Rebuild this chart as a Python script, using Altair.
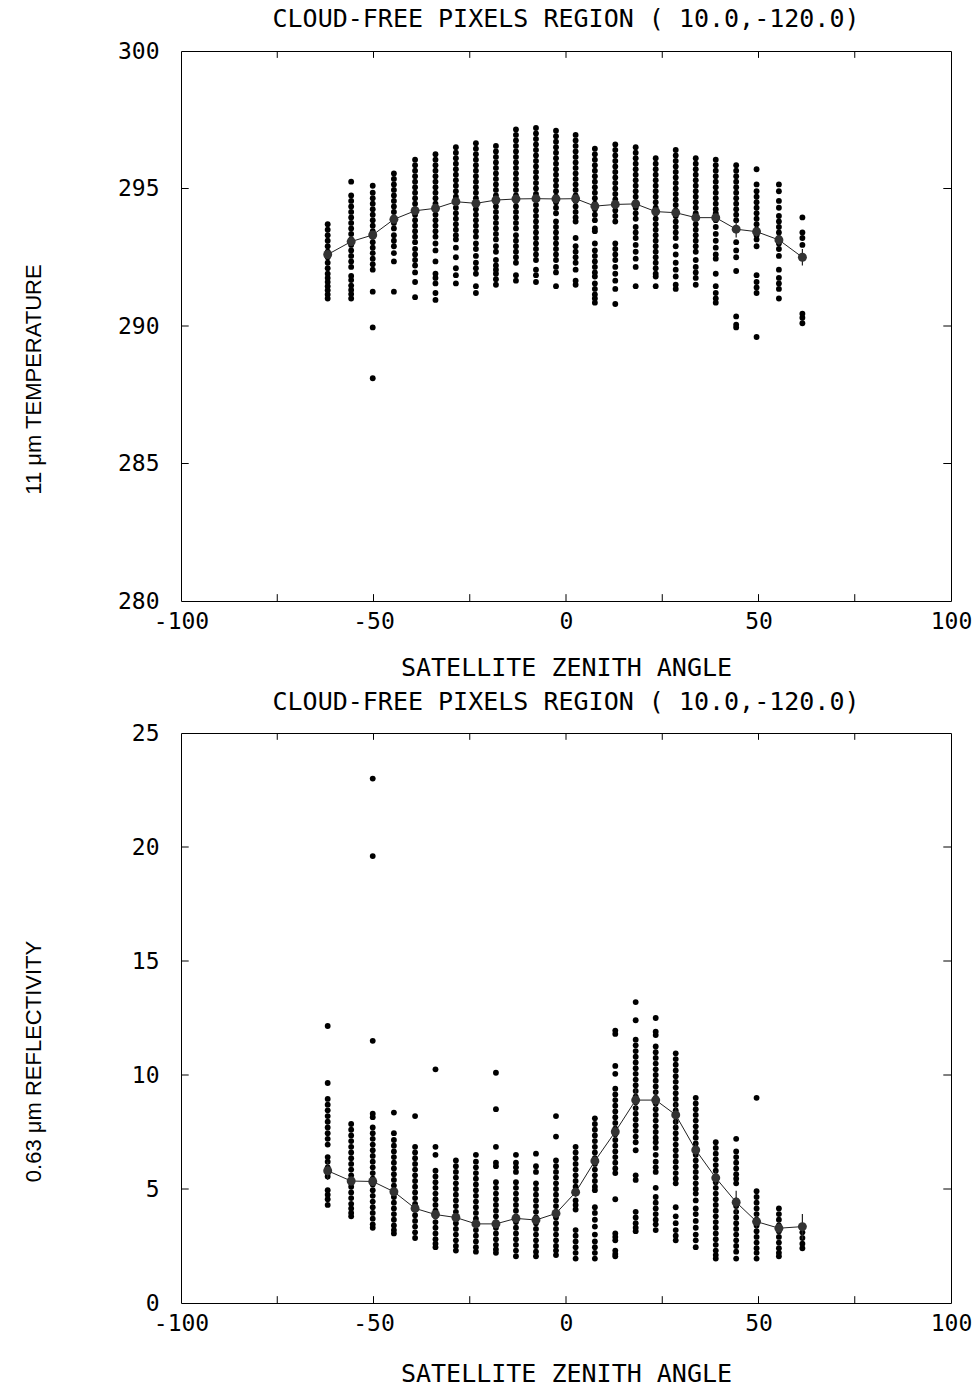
import altair as alt
import pandas as pd

# ---------------- data ----------------
ANGLES = [-61.9, -55.8, -50.2, -44.7, -39.2, -33.9, -28.6, -23.4, -18.2, -13.0, -7.8, -2.6,
          2.5, 7.5, 12.8, 18.1, 23.3, 28.5, 33.7, 38.9, 44.2, 49.5, 55.3, 61.4]

# 11 um temperature, one list per zenith-angle bin
T01 = [293.7, 293.5, 293.3, 293.1, 292.9, 292.7, 292.5, 292.3, 292.1, 291.9, 291.75, 291.6, 291.45, 291.3, 291.15, 291.0]
T02 = [295.25, 294.75, 294.55, 294.35, 294.15, 293.95, 293.75, 293.55, 293.35, 293.15, 292.95, 292.75, 292.55, 292.35, 292.15, 291.82, 291.67, 291.47, 291.31, 291.16, 291.0]
T03 = [295.1, 294.85, 294.65, 294.45, 294.25, 294.05, 293.85, 293.65, 293.45, 293.25, 293.05, 292.85, 292.65, 292.45, 292.25, 292.05, 291.25, 289.95, 288.1]
T04 = [295.55, 295.35, 295.15, 294.95, 294.75, 294.55, 294.35, 294.15, 293.95, 293.75, 293.55, 293.3, 293.1, 292.9, 292.65, 292.35, 291.25]
T05 = [296.05, 295.85, 295.65, 295.45, 295.25, 295.05, 294.85, 294.65, 294.45, 294.25, 294.05, 293.85, 293.65, 293.45, 293.25, 293.05, 292.8, 292.6, 292.4, 292.2, 291.95, 291.6, 291.05]
T06 = [296.25, 296.05, 295.85, 295.65, 295.45, 295.25, 295.05, 294.85, 294.65, 294.45, 294.25, 294.05, 293.85, 293.65, 293.45, 293.25, 293.0, 292.75, 292.35, 291.9, 291.75, 291.55, 291.2, 290.95]
T07 = [296.5, 296.3, 296.1, 295.9, 295.7, 295.5, 295.3, 295.1, 294.9, 294.7, 294.5, 294.3, 294.1, 293.9, 293.7, 293.5, 293.3, 293.15, 292.85, 292.5, 292.1, 291.85, 291.55]
T08 = [296.65, 296.45, 296.25, 296.05, 295.85, 295.65, 295.45, 295.25, 295.05, 294.85, 294.65, 294.45, 294.25, 294.05, 293.85, 293.65, 293.45, 293.25, 293.0, 292.8, 292.55, 292.3, 292.1, 291.9, 291.45, 291.2]
T09 = [296.55, 296.35, 296.15, 295.95, 295.75, 295.55, 295.35, 295.15, 294.95, 294.75, 294.55, 294.35, 294.15, 293.95, 293.75, 293.55, 293.35, 293.15, 292.9, 292.7, 292.4, 292.2, 292.05, 291.9, 291.7, 291.5]
T10 = [297.15, 296.95, 296.75, 296.55, 296.35, 296.15, 295.95, 295.75, 295.55, 295.35, 295.15, 294.95, 294.75, 294.55, 294.35, 294.15, 293.95, 293.75, 293.55, 293.3, 293.1, 292.9, 292.7, 292.5, 292.3, 291.85, 291.65]
T11 = [297.2, 297.0, 296.8, 296.6, 296.4, 296.2, 296.0, 295.8, 295.6, 295.4, 295.2, 295.0, 294.8, 294.6, 294.4, 294.2, 294.0, 293.8, 293.6, 293.4, 293.2, 293.0, 292.8, 292.6, 292.4, 292.05, 291.85, 291.6]
T12 = [297.1, 296.9, 296.7, 296.5, 296.3, 296.1, 295.9, 295.7, 295.5, 295.3, 295.1, 294.9, 294.7, 294.5, 294.3, 294.1, 293.8, 293.6, 293.4, 293.2, 293.0, 292.8, 292.6, 292.4, 292.15, 291.95, 291.45]
T13 = [296.95, 296.75, 296.55, 296.35, 296.15, 295.95, 295.75, 295.55, 295.35, 295.15, 294.95, 294.75, 294.55, 294.35, 294.15, 293.95, 293.8, 293.2, 292.9, 292.7, 292.5, 292.3, 292.05, 291.65, 291.5]
T14 = [296.45, 296.25, 296.05, 295.85, 295.65, 295.45, 295.25, 295.05, 294.85, 294.65, 294.45, 294.25, 294.05, 293.85, 293.55, 293.45, 293.0, 292.75, 292.55, 292.35, 292.15, 291.95, 291.8, 291.55, 291.35, 291.15, 291.0, 290.85]
T15 = [296.6, 296.4, 296.2, 296.0, 295.8, 295.6, 295.4, 295.2, 295.0, 294.8, 294.6, 294.4, 294.2, 294.0, 293.8, 293.0, 292.8, 292.6, 292.4, 292.15, 291.9, 291.65, 291.35, 290.8]
T16 = [296.5, 296.3, 296.1, 295.9, 295.7, 295.5, 295.3, 295.1, 294.9, 294.7, 294.5, 294.3, 294.1, 293.9, 293.6, 293.4, 293.2, 292.95, 292.7, 292.45, 292.15, 291.45]
T17 = [296.1, 295.9, 295.7, 295.5, 295.3, 295.1, 294.9, 294.7, 294.5, 294.3, 294.1, 293.9, 293.7, 293.5, 293.3, 293.1, 292.9, 292.7, 292.5, 292.3, 292.1, 291.9, 291.8, 291.45]
T18 = [296.4, 296.2, 296.0, 295.8, 295.6, 295.4, 295.2, 295.0, 294.8, 294.6, 294.4, 294.2, 294.0, 293.8, 293.6, 293.4, 293.2, 292.9, 292.6, 292.3, 292.05, 291.8, 291.5, 291.35]
T19 = [296.1, 295.9, 295.7, 295.5, 295.3, 295.1, 294.9, 294.7, 294.5, 294.3, 294.1, 293.9, 293.7, 293.5, 293.3, 293.1, 292.9, 292.7, 292.4, 292.15, 291.95, 291.75, 291.5]
T20 = [296.05, 295.85, 295.65, 295.45, 295.25, 295.05, 294.85, 294.65, 294.45, 294.25, 294.1, 293.85, 293.6, 293.35, 293.1, 292.85, 292.6, 292.45, 291.9, 291.45, 291.2, 291.0, 290.85]
T21 = [295.85, 295.65, 295.45, 295.25, 295.05, 294.85, 294.65, 294.45, 294.25, 294.05, 293.85, 293.05, 292.75, 292.5, 292.0, 290.35, 290.05, 289.95]
T22 = [295.7, 295.15, 294.9, 294.7, 294.5, 294.3, 294.1, 293.9, 293.7, 293.5, 293.3, 293.15, 292.9, 291.85, 291.6, 291.4, 291.2, 289.6]
T23 = [295.15, 294.9, 294.55, 294.3, 294.0, 293.8, 293.6, 293.4, 293.2, 293.0, 292.8, 292.55, 292.05, 291.75, 291.55, 291.35, 291.0]
T24 = [293.95, 293.4, 293.2, 292.95, 292.5, 290.45, 290.3, 290.1]

TOP_MEANS = [292.6, 293.07, 293.31, 293.88, 294.19, 294.28, 294.52, 294.46, 294.58, 294.62, 294.63, 294.62,
             294.63, 294.36, 294.42, 294.44, 294.16, 294.12, 293.94, 293.94, 293.52, 293.43, 293.13, 292.5]
TOP_ERR = [0.15, 0.1, 0.1, 0.1, 0.1, 0.1, 0.1, 0.1, 0.1, 0.1, 0.1, 0.1,
           0.1, 0.1, 0.1, 0.1, 0.1, 0.1, 0.1, 0.1, 0.3, 0.2, 0.2, 0.3]

# 0.63 um reflectivity, one list per zenith-angle bin
B01 = [12.15, 9.65, 8.95, 8.7, 8.45, 8.2, 7.95, 7.7, 7.45, 7.2, 6.95, 6.4, 6.2, 5.95, 5.7, 5.55, 4.95, 4.75, 4.55, 4.3]
B02 = [7.85, 7.6, 7.35, 7.1, 6.85, 6.6, 6.35, 6.1, 5.85, 5.6, 5.35, 5.1, 4.85, 4.6, 4.35, 4.15, 3.95, 3.8]
B03 = [23.0, 19.6, 11.5, 8.3, 8.15, 7.7, 7.45, 7.2, 6.95, 6.7, 6.45, 6.2, 5.95, 5.7, 5.45, 5.2, 4.95, 4.7, 4.45, 4.2, 3.95, 3.7, 3.45, 3.3]
B04 = [8.35, 7.45, 7.15, 6.9, 6.65, 6.4, 6.15, 5.9, 5.65, 5.4, 5.15, 4.9, 4.65, 4.4, 4.15, 3.9, 3.65, 3.4, 3.2, 3.05]
B05 = [8.2, 6.85, 6.6, 6.35, 6.1, 5.85, 5.6, 5.35, 5.1, 4.85, 4.6, 4.35, 4.1, 3.85, 3.6, 3.35, 3.1, 2.85]
B06 = [10.25, 6.85, 6.5, 5.8, 5.55, 5.3, 5.05, 4.8, 4.55, 4.3, 4.05, 3.8, 3.55, 3.3, 3.05, 2.8, 2.6, 2.45]
B07 = [6.25, 6.0, 5.75, 5.5, 5.25, 5.0, 4.75, 4.5, 4.25, 4.0, 3.75, 3.5, 3.25, 3.0, 2.75, 2.5, 2.3]
B08 = [6.5, 6.2, 5.95, 5.7, 5.45, 5.2, 4.95, 4.7, 4.45, 4.2, 3.95, 3.7, 3.45, 3.2, 2.95, 2.7, 2.45, 2.25]
B09 = [10.1, 8.5, 6.85, 6.15, 6.0, 5.3, 5.05, 4.8, 4.55, 4.3, 4.05, 3.8, 3.55, 3.3, 3.05, 2.8, 2.55, 2.35, 2.2]
B10 = [6.5, 6.15, 5.95, 5.75, 5.3, 5.05, 4.8, 4.55, 4.3, 4.05, 3.8, 3.55, 3.3, 3.05, 2.8, 2.55, 2.3, 2.05]
B11 = [6.55, 6.0, 5.75, 5.25, 5.0, 4.75, 4.5, 4.25, 4.0, 3.75, 3.5, 3.25, 3.0, 2.75, 2.5, 2.25, 2.05]
B12 = [8.2, 7.3, 6.25, 6.0, 5.75, 5.5, 5.25, 5.0, 4.75, 4.5, 4.25, 4.0, 3.75, 3.5, 3.25, 3.0, 2.75, 2.5, 2.3, 2.1]
B13 = [6.85, 6.6, 6.35, 6.1, 5.85, 5.6, 5.35, 5.1, 4.85, 4.5, 4.3, 4.1, 3.2, 2.95, 2.7, 2.45, 2.2, 1.95]
B14 = [8.1, 7.85, 7.6, 7.35, 7.1, 6.85, 6.6, 6.35, 6.1, 5.85, 5.6, 5.35, 5.1, 4.95, 4.2, 3.95, 3.65, 3.35, 3.0, 2.7, 2.45, 2.2, 1.95]
B15 = [11.95, 11.8, 10.4, 10.05, 9.4, 9.15, 8.9, 8.65, 8.4, 8.15, 7.9, 7.65, 7.4, 7.15, 6.9, 6.65, 6.4, 6.15, 5.9, 5.7, 4.55, 3.05, 2.9, 2.75, 2.3, 2.15, 2.05]
B16 = [13.2, 12.4, 11.55, 11.3, 11.05, 10.8, 10.55, 10.3, 10.05, 9.8, 9.55, 9.3, 9.05, 8.8, 8.55, 8.3, 8.05, 7.8, 7.55, 7.3, 7.05, 6.7, 5.6, 5.4, 4.0, 3.75, 3.5, 3.3, 3.15]
B17 = [12.5, 11.9, 11.75, 11.25, 11.0, 10.75, 10.5, 10.25, 10.0, 9.75, 9.5, 9.25, 9.0, 8.75, 8.5, 8.25, 8.0, 7.75, 7.5, 7.25, 7.05, 6.8, 6.5, 6.2, 5.95, 5.75, 5.05, 4.65, 4.4, 4.15, 3.9, 3.65, 3.45, 3.2]
B18 = [10.95, 10.7, 10.45, 10.2, 9.95, 9.7, 9.45, 9.2, 8.95, 8.7, 8.45, 8.2, 7.95, 7.7, 7.45, 7.2, 6.95, 6.7, 6.45, 6.2, 5.95, 5.7, 5.45, 5.25, 4.2, 3.8, 3.5, 3.2, 2.95, 2.75]
B19 = [9.0, 8.75, 8.5, 8.25, 8.0, 7.75, 7.5, 7.25, 7.0, 6.75, 6.5, 6.25, 6.0, 5.75, 5.5, 5.25, 5.0, 4.8, 4.5, 4.15, 3.9, 3.6, 3.3, 3.0, 2.75, 2.45]
B20 = [7.05, 6.8, 6.55, 6.3, 6.05, 5.8, 5.55, 5.3, 5.05, 4.8, 4.55, 4.3, 4.05, 3.8, 3.55, 3.3, 3.05, 2.8, 2.55, 2.3, 2.1, 1.95]
B21 = [7.2, 6.65, 6.4, 6.15, 5.9, 5.65, 5.45, 5.25, 4.5, 4.25, 4.0, 3.75, 3.5, 3.25, 3.0, 2.75, 2.5, 2.25, 1.95]
B22 = [9.0, 4.9, 4.65, 4.4, 4.15, 3.9, 3.65, 3.4, 3.15, 2.9, 2.65, 2.4, 2.2, 1.95]
B23 = [4.15, 3.9, 3.65, 3.4, 3.15, 2.9, 2.65, 2.4, 2.2, 2.05]
B24 = [3.35, 3.1, 2.85, 2.6, 2.4]

BOT_MEANS = [5.8, 5.35, 5.33, 4.88, 4.15, 3.88, 3.75, 3.47, 3.47, 3.71, 3.64, 3.93,
             4.86, 6.23, 7.51, 8.9, 8.9, 8.25, 6.71, 5.49, 4.42, 3.57, 3.28, 3.35]
BOT_ERR = [0.4, 0.2, 0.2, 0.2, 0.2, 0.2, 0.2, 0.2, 0.2, 0.2, 0.2, 0.2,
           0.2, 0.2, 0.3, 0.5, 0.4, 0.5, 0.3, 0.3, 0.5, 0.3, 0.3, 0.55]

TOP_COLUMNS = [T01, T02, T03, T04, T05, T06, T07, T08, T09, T10, T11, T12,
               T13, T14, T15, T16, T17, T18, T19, T20, T21, T22, T23, T24]
BOT_COLUMNS = [B01, B02, B03, B04, B05, B06, B07, B08, B09, B10, B11, B12,
               B13, B14, B15, B16, B17, B18, B19, B20, B21, B22, B23, B24]

X_TICKS = [-75, -50, -25, 0, 25, 50, 75]
X_LABELS = [-100, -50, 0, 50, 100]

TITLE = "CLOUD-FREE PIXELS  REGION ( 10.0,-120.0)"
XTITLE = "SATELLITE ZENITH ANGLE"

MONO = "DejaVu Sans Mono"
YTITLE_FONT = "Liberation Sans"


def points_frame(columns):
    rows = []
    for a, col in zip(ANGLES, columns):
        for v in col:
            rows.append({"angle": a, "value": v})
    return pd.DataFrame(rows)


def means_frame(means, errs):
    return pd.DataFrame({"angle": ANGLES, "mean": means,
                         "lo": [m - e for m, e in zip(means, errs)],
                         "hi": [m + e for m, e in zip(means, errs)]})


def panel(columns, means, errs, ymin, ymax, ystep_values, ytitle, height, vtick,
          xtitle_pad, dot_size, title_offset):
    xs = alt.Scale(domain=[-100, 100], nice=False, zero=False)
    ys = alt.Scale(domain=[ymin, ymax], nice=False, zero=False)
    x_axis = alt.Axis(values=X_LABELS, title=XTITLE, ticks=False, domain=False, grid=False,
                      labelPadding=9, titlePadding=xtitle_pad, labelFontSize=23, titleFontSize=25,
                      labelFont=MONO, titleFont=MONO, labelColor="black",
                      titleColor="black", titleFontWeight="normal", labelFlush=False,
                      labelExpr="replace(datum.label, '−', '-')")
    y_axis = alt.Axis(values=ystep_values, title=ytitle, ticks=False, domain=False, grid=False,
                      labelPadding=22, labelFontSize=23, titleFontSize=22,
                      labelFont=MONO, titleFont=YTITLE_FONT, labelColor="black",
                      titleColor="black", titleFontWeight="normal", labelFlush=False,
                      titleX=-136, titleY=328)

    def X(field):
        return alt.X(field, type="quantitative", scale=xs, axis=x_axis)

    def Y(field):
        return alt.Y(field, type="quantitative", scale=ys, axis=y_axis)

    pts = alt.Chart(points_frame(columns)).mark_circle(size=dot_size, color="black", opacity=1).encode(
        x=X("angle"), y=Y("value"))
    mdf = means_frame(means, errs)
    line = alt.Chart(mdf).mark_line(color="#222222", strokeWidth=1).encode(x=X("angle"), y=Y("mean"))
    err = alt.Chart(mdf).mark_rule(color="#222222", strokeWidth=1.2).encode(
        x=X("angle"), y=Y("lo"), y2="hi")
    mk = alt.Chart(mdf).mark_circle(size=80, color="#333333", opacity=1).encode(x=X("angle"), y=Y("mean"))

    # inward ticks along the bottom and top frame edges
    xt = pd.DataFrame({"t": X_TICKS * 2,
                       "y0": [ymin] * len(X_TICKS) + [ymax] * len(X_TICKS),
                       "y1": [ymin + vtick] * len(X_TICKS) + [ymax - vtick] * len(X_TICKS)})
    xticks = alt.Chart(xt).mark_rule(color="black", strokeWidth=1).encode(
        x=X("t"), y=Y("y0"), y2="y1")
    inner = [v for v in ystep_values if v not in (ymin, ymax)]
    yt = pd.DataFrame({"v": inner * 2,
                       "x0": [-100] * len(inner) + [100] * len(inner),
                       "x1": [-98] * len(inner) + [98] * len(inner)})
    yticks = alt.Chart(yt).mark_rule(color="black", strokeWidth=1).encode(
        x=X("x0"), x2="x1", y=Y("v"))

    return alt.layer(pts, line, err, mk, xticks, yticks).properties(
        width=770, height=height,
        title=alt.TitleParams(TITLE, font=MONO, fontSize=25, fontWeight="normal",
                              color="black", offset=title_offset, anchor="middle"))


top = panel(TOP_COLUMNS, TOP_MEANS, TOP_ERR, 280, 300, [280, 285, 290, 295, 300],
            "11 \u03bcm TEMPERATURE", 550, 0.25, 22, 34, 8)
bottom = panel(BOT_COLUMNS, BOT_MEANS, BOT_ERR, 0, 25, [0, 5, 10, 15, 20, 25],
               "0.63 \u03bcm REFLECTIVITY", 570, 0.3, 26, 34, 7)

chart = alt.vconcat(top, bottom, spacing=8).properties(
    padding={"left": 21, "top": 6, "right": 0, "bottom": 0}
).configure(background="white").configure_view(stroke="black", strokeWidth=1)

chart.save("out.html", embed_options={"renderer": "svg", "actions": False})
